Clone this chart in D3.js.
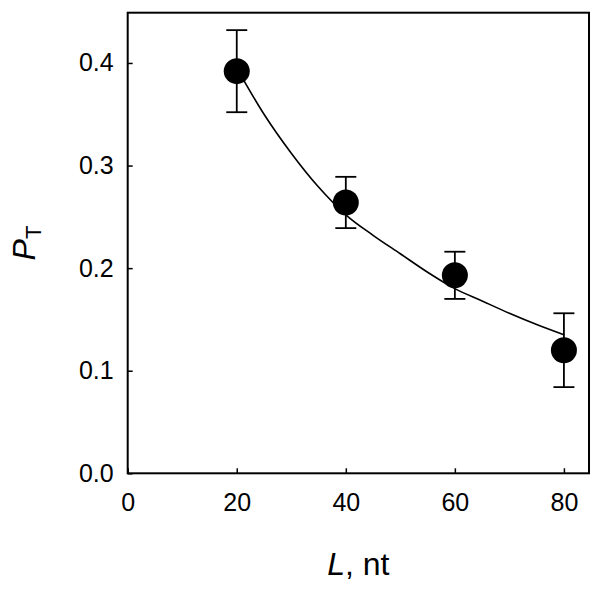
<!DOCTYPE html>
<html>
<head>
<meta charset="utf-8">
<script src="https://cdn.jsdelivr.net/npm/d3@7"></script>
<style>
  body { margin: 0; background: #fff; }
  svg { display: block; font-family: "Liberation Sans", Arial, sans-serif; }
</style>
</head>
<body>
<script>
// measured points
const lengths = [20, 40, 60, 80];
const pT = [0.392, 0.264, 0.193, 0.12];
const pTErr = [0.04, 0.025, 0.023, 0.036];

// fitted curve
const fitL = [20, 25, 30, 35, 40, 45, 50, 55, 60, 65, 70, 75, 80];
const fitP = [0.395, 0.350, 0.312, 0.279, 0.252, 0.232, 0.214, 0.196, 0.180, 0.168, 0.156, 0.145, 0.135];

const xTicks = [0, 20, 40, 60, 80];
const yTicks = [0, 0.1, 0.2, 0.3, 0.4];

let margin = { top: 12.7, right: 13, bottom: 117.7, left: 127.7 },
    width = 602 - margin.left - margin.right,
    height = 591 - margin.top - margin.bottom;

let x = d3.scaleLinear().domain([0, 84.6]).range([0, width]),
    y = d3.scaleLinear().domain([0, 0.449]).range([height, 0]);

let svg = d3.select('body')
            .append('svg').attr('width', 602).attr('height', 591)
            .append('g').attr('transform', `translate(${margin.left}, ${margin.top})`);

let xAxis = d3.axisBottom(x).tickValues(xTicks).tickFormat(d3.format('d'))
              .tickSize(-5).tickSizeOuter(0).tickPadding(20);
let yAxis = d3.axisLeft(y).tickValues(yTicks).tickFormat(d3.format('.1f'))
              .tickSize(-5).tickSizeOuter(0).tickPadding(14);

let gx = svg.append('g').attr('transform', `translate(0, ${height})`).call(xAxis);
let gy = svg.append('g').call(yAxis);

[gx, gy].forEach(g => {
    g.select('.domain').remove();
    g.selectAll('line').attr('stroke', '#000').attr('stroke-width', 1.5);
    g.selectAll('text').attr('fill', '#000').style('font-size', '25px');
});

// frame
svg.append('rect')
   .attr('x', 0).attr('y', 0).attr('width', width).attr('height', height)
   .attr('fill', 'none').attr('stroke', '#000').attr('stroke-width', 2);

// fit line
let line = d3.line().x(d => x(d[0])).y(d => y(d[1])).curve(d3.curveMonotoneX);
svg.append('path')
   .datum(fitL.map((l, i) => [l, fitP[i]]))
   .attr('d', line)
   .attr('fill', 'none').attr('stroke', '#000').attr('stroke-width', 1.6);

let pts = lengths.map((l, i) => ({ l: l, p: pT[i], e: pTErr[i] }));

// error bars
let eb = svg.append('g').attr('stroke', '#000').attr('stroke-width', 1.8);
pts.forEach(d => {
    let cx = x(d.l), top = y(d.p + d.e), bot = y(d.p - d.e);
    eb.append('line').attr('x1', cx).attr('x2', cx).attr('y1', top).attr('y2', bot);
    eb.append('line').attr('x1', cx - 10.5).attr('x2', cx + 10.5).attr('y1', top).attr('y2', top);
    eb.append('line').attr('x1', cx - 10.5).attr('x2', cx + 10.5).attr('y1', bot).attr('y2', bot);
});

svg.append('g').selectAll('circle')
   .data(pts).enter().append('circle')
   .attr('cx', d => x(d.l)).attr('cy', d => y(d.p)).attr('r', 13)
   .attr('fill', '#000');

// axis titles
let xt = svg.append('text')
   .attr('x', width / 2).attr('y', 575 - margin.top)
   .attr('text-anchor', 'middle').style('font-size', '32px');
xt.append('tspan').attr('font-style', 'italic').text('L');
xt.append('tspan').text(', nt');

let yt = svg.append('text')
   .attr('transform', `translate(${35 - margin.left}, ${height / 2}) rotate(-90)`)
   .attr('text-anchor', 'middle').style('font-size', '32px');
yt.append('tspan').attr('font-style', 'italic').text('P');
yt.append('tspan').attr('dy', 6).style('font-size', '22px').text('T');
</script>
</body>
</html>
